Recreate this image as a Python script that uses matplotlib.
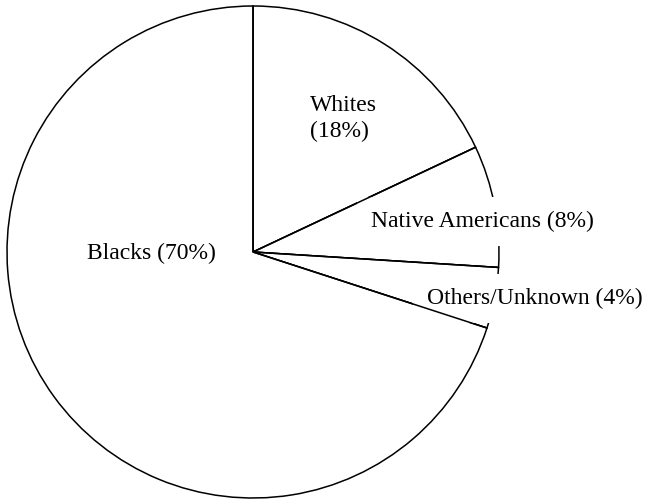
import numpy as np
import matplotlib
matplotlib.use("Agg")
from matplotlib import pyplot as plt

# ---DATA---
groups = ["Whites", "Native Americans", "Others/Unknown", "Blacks"]
shares = [18, 8, 4, 70]
label_text = ["Whites\n(18%)", "Native Americans (8%)", "Others/Unknown (4%)", "Blacks (70%)"]

# label anchors in data units (pie radius = 1), last-line baseline
label_xy = [(0.232, 0.467), (0.931, 0.102), (1.144, -0.211), (-0.411, -0.028)]
label_ha = ["left", "center", "center", "center"]

plt.rcParams["font.family"] = ["Liberation Serif", "DejaVu Serif"]

fig = plt.figure(figsize=(6.47, 4.99), dpi=100)
ax = fig.add_axes([0, 0, 1, 1])

wedges, _ = ax.pie(shares, startangle=90, counterclock=False, radius=1,
                   colors=["white"] * len(shares),
                   wedgeprops=dict(edgecolor="black", linewidth=1.1))

# pixel scale: 246 px per unit, centre at (253, 252)
ax.set_xlim(-253 / 246, (647 - 253) / 246)
ax.set_ylim(-(499 - 252) / 246, 252 / 246)
ax.set_aspect("auto")
ax.axis("off")

for txt, (x, y), ha in zip(label_text, label_xy, label_ha):
    box = None
    if ha == "center" and x > 0.5:
        # white box hides the rim behind the outer labels
        box = dict(facecolor="white", edgecolor="none", pad=10)
    ax.text(x, y, txt, ha=ha, va="baseline", fontsize=17,
            linespacing=1.3, bbox=box, zorder=3)

# radial dividers go on top of the label boxes
bounds = 90 - 360 * np.cumsum([0] + shares[:-1]) / sum(shares)
for ang in bounds:
    a = np.deg2rad(ang)
    ax.plot([0, np.cos(a)], [0, np.sin(a)], color="black", lw=1.1,
            solid_capstyle="butt", zorder=4)

fig.savefig("out.png", dpi=100)
